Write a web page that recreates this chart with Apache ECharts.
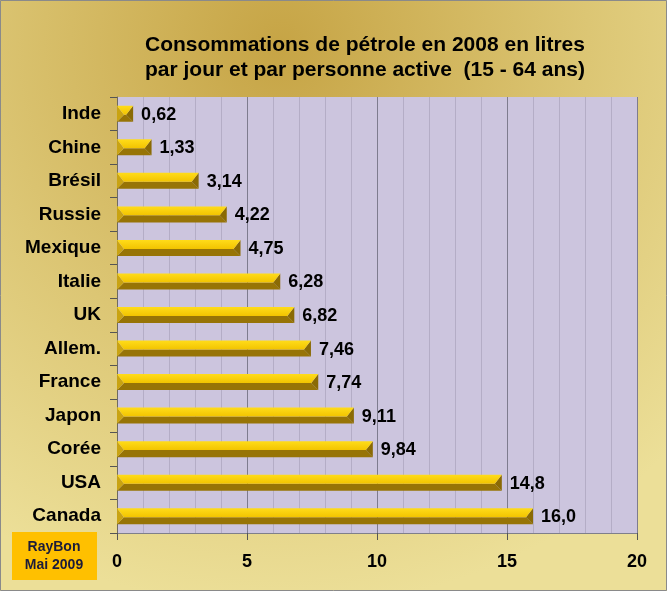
<!DOCTYPE html>
<html>
<head>
<meta charset="utf-8">
<script src="https://cdn.jsdelivr.net/npm/echarts@6/dist/echarts.min.js"></script>
<style>
  html, body { margin: 0; padding: 0; }
  #chart { width: 667px; height: 591px; }
</style>
</head>
<body>
<div id="chart"></div>
<script>
// data
var countries = ['Inde', 'Chine', 'Brésil', 'Russie', 'Mexique', 'Italie', 'UK',
    'Allem.', 'France', 'Japon', 'Corée', 'USA', 'Canada'];
var litres = [0.62, 1.33, 3.14, 4.22, 4.75, 6.28, 6.82, 7.46, 7.74, 9.11, 9.84, 14.8, 16.0];
var xTicks = [0, 5, 10, 15, 20];

var titleLines = ['Consommations de pétrole en 2008 en litres',
    'par jour et par personne active  (15 - 64 ans)'];

var chart = echarts.init(document.getElementById('chart'));

function fmt(v) {
    var s = v < 10 ? v.toFixed(2) : v.toFixed(1);
    return s.replace('.', ',');
}

// bevelled gold bar
function renderBar(params, api) {
    var idx = api.value(0);
    var val = api.value(1);
    var p0 = api.coord([0, idx]);
    var p1 = api.coord([val, idx]);
    var h = 16;
    var x0 = p0[0], x1 = p1[0];
    var yt = p0[1] - h / 2, yb = p0[1] + h / 2, ym = yt + h * 0.56;
    var d = Math.min(7, (x1 - x0) / 2);
    return {
        type: 'group',
        children: [
            { type: 'polygon', shape: { points: [[x0, yb], [x0 + d, ym], [x1 - d, ym], [x1, yb]] },
              style: { fill: '#977406' } },
            { type: 'polygon', shape: { points: [[x1, yt], [x1, yb], [x1 - d, ym]] },
              style: { fill: '#8A6A04' } },
            { type: 'polygon', shape: { points: [[x0, yt], [x0 + d, ym], [x0, yb]] },
              style: { fill: '#C9A312' } },
            { type: 'polygon', shape: { points: [[x0, yt], [x1, yt], [x1 - d, ym], [x0 + d, ym]] },
              style: { fill: new echarts.graphic.LinearGradient(0, 0, 0, 1, [
                  { offset: 0, color: '#FFDC1A' }, { offset: 1, color: '#F2C400' }]) } },
            { type: 'text', x: x1 + 8, y: p0[1] + 1,
              style: { text: fmt(val), fill: '#000', font: 'bold 18px "Liberation Sans", Arial, sans-serif',
                       align: 'left', verticalAlign: 'middle' } }
        ]
    };
}

var barData = [];
for (var i = 0; i < countries.length; i++) {
    barData.push([i, litres[i]]);
}

chart.setOption({
    animation: false,
    backgroundColor: new echarts.graphic.RadialGradient(0.42, 0.08, 0.95, [
        { offset: 0, color: '#C6A445' },
        { offset: 0.55, color: '#DCC674' },
        { offset: 1, color: '#ECDF98' }
    ]),
    title: {
        text: titleLines.join('\n'),
        left: 360,
        top: 28,
        textAlign: 'center',
        textStyle: {
            fontFamily: '"Liberation Sans", Arial, sans-serif',
            fontWeight: 'bold',
            fontSize: 21,
            lineHeight: 25,
            color: '#000'
        }
    },
    grid: {
        left: 117,
        right: 30,
        top: 97,
        bottom: 58,
        show: true,
        backgroundColor: '#CCC5DE',
        borderWidth: 0
    },
    xAxis: {
        type: 'value',
        min: xTicks[0],
        max: xTicks[xTicks.length - 1],
        interval: 5,
        axisLine: { show: true, lineStyle: { color: '#7F7F8A', width: 1 } },
        axisTick: { show: true, length: 7, lineStyle: { color: '#555' } },
        axisLabel: {
            margin: 20,
            color: '#000',
            fontFamily: '"Liberation Sans", Arial, sans-serif',
            fontWeight: 'bold',
            fontSize: 18,
            formatter: function (v) { return xTicks.indexOf(v) >= 0 ? String(v) : ''; }
        },
        splitLine: { show: true, lineStyle: { color: '#7E7C8E', width: 1 } },
        minorTick: { show: false, splitNumber: 5 },
        minorSplitLine: { show: true, lineStyle: { color: '#B4ADC6', width: 1 } }
    },
    yAxis: {
        type: 'category',
        inverse: true,
        data: countries,
        axisLine: { show: true, lineStyle: { color: '#6E6A60', width: 1 } },
        axisTick: { show: true, length: 7, lineStyle: { color: '#555' } },
        axisLabel: {
            margin: 16,
            color: '#000',
            fontFamily: '"Liberation Sans", Arial, sans-serif',
            fontWeight: 'bold',
            fontSize: 19
        },
        splitLine: { show: false }
    },
    graphic: [
        { type: 'rect', shape: { x: 12, y: 532, width: 85, height: 48 },
          style: { fill: '#FFC000' }, z: 10 },
        { type: 'text', x: 54, y: 556,
          style: { text: 'RayBon\nMai 2009', fill: '#1C1C3A', align: 'center', verticalAlign: 'middle',
                   font: 'bold 14px "Liberation Sans", Arial, sans-serif', lineHeight: 18 },
          z: 11 },
        { type: 'rect', shape: { x: 0.5, y: 0.5, width: 666, height: 590 },
          style: { fill: 'none', stroke: '#8A8A8A', lineWidth: 1 }, silent: true, z: 20 }
    ],
    series: [{
        type: 'custom',
        renderItem: renderBar,
        encode: { x: 1, y: 0 },
        data: barData,
        clip: false
    }]
});
</script>
</body>
</html>
